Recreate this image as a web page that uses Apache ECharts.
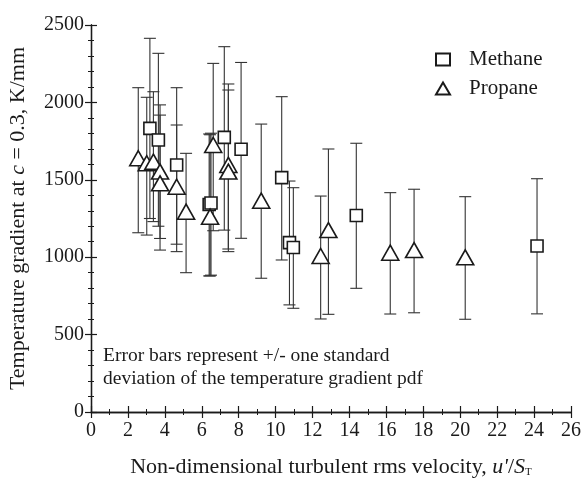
<!DOCTYPE html>
<html><head><meta charset="utf-8">
<script src="https://cdn.jsdelivr.net/npm/echarts@6/dist/echarts.min.js"></script>
<style>html,body{margin:0;padding:0;background:#fff}#c{width:583px;height:479px}</style>
</head><body><div id="c"></div>
<script>
const methaneX    = [3.19, 3.65, 4.64, 6.40, 6.50, 7.22, 8.13, 10.33, 10.75, 10.96, 14.37, 24.16];
const methaneY    = [1832, 1757, 1596, 1340, 1350, 1774, 1697, 1514, 1094, 1063, 1269, 1072];
const methaneHigh = [2414, 2317, 2095, 1796, 1801, 2360, 2258, 2037, 1492, 1449, 1736, 1507];
const methaneLow  = [1250, 1200, 1084, 879, 884, 1175, 1122, 982, 692, 670, 799, 634];

const propaneX    = [2.56, 3.02, 3.38, 3.74, 3.74, 4.64, 5.15, 6.45, 6.62, 7.44, 7.44, 9.22, 12.44, 12.86, 16.21, 17.50, 20.27];
const propaneY    = [1639, 1607, 1617, 1553, 1477, 1455, 1294, 1262, 1725, 1596, 1553, 1365, 1008, 1175, 1029, 1046, 999];
const propaneHigh = [2095, 2033, 2069, 1984, 1918, 1854, 1671, 1791, 2252, 2119, 2080, 1860, 1395, 1699, 1417, 1439, 1391];
const propaneLow  = [1158, 1143, 1230, 1121, 1046, 1036, 900, 879, 1171, 1053, 1036, 864, 601, 631, 633, 641, 599];

const xTicks = [0,2,4,6,8,10,12,14,16,18,20,22,24,26];
const yTicks = [0,500,1000,1500,2000,2500];

const FONT = '"Liberation Serif", "DejaVu Serif", serif';
const INK = '#1a1a1a';

function errorSeries(name, xs, lo, hi) {
  return {
    type: 'custom', name: name, z: 1,
    encode: { x: 0, y: [1, 2] },
    data: xs.map((x, i) => [x, lo[i], hi[i]]),
    renderItem: function (params, api) {
      const x = api.value(0);
      const top = api.coord([x, api.value(2)]);
      const bot = api.coord([x, api.value(1)]);
      const w = 6;
      const st = { stroke: '#333', lineWidth: 1.1 };
      return { type: 'group', children: [
        { type: 'line', shape: { x1: top[0], y1: top[1], x2: bot[0], y2: bot[1] }, style: st },
        { type: 'line', shape: { x1: top[0]-w, y1: top[1], x2: top[0]+w, y2: top[1] }, style: st },
        { type: 'line', shape: { x1: bot[0]-w, y1: bot[1], x2: bot[0]+w, y2: bot[1] }, style: st }
      ]};
    }
  };
}

const axLine = { show: true, lineStyle: { color: INK, width: 1.3 } };
const axTick = { show: true, inside: true, length: 6, lineStyle: { color: INK, width: 1.2 } };
function minor(n) { return { show: true, splitNumber: n, length: 3, lineStyle: { color: INK, width: 1 } }; }

const chart = echarts.init(document.getElementById('c'), null, { renderer: 'canvas' });
chart.setOption({
  animation: false,
  backgroundColor: '#fff',
  textStyle: { fontFamily: FONT },
  grid: { left: 91, right: 12, top: 25, bottom: 67, containLabel: false, outerBoundsMode: 'none' },
  title: {
    text: 'Error bars represent +/- one standard\ndeviation of the temperature gradient pdf',
    left: 98, top: 339,
    textStyle: { fontFamily: FONT, fontSize: 19.5, fontWeight: 'normal', color: INK, lineHeight: 23 }
  },
  legend: {
    data: ['Methane', 'Propane'],
    orient: 'vertical', left: 430, top: 44,
    itemWidth: 14, itemHeight: 12, itemGap: 8,
    textStyle: { fontFamily: FONT, fontSize: 21, color: INK, padding: [0, 0, 0, 14] }
  },
  xAxis: [
    {
      type: 'value', min: xTicks[0], max: xTicks[xTicks.length-1], interval: 2, position: 'bottom',
      axisLine: axLine, axisTick: axTick, minorTick: minor(2), splitLine: { show: false },
      axisLabel: { fontFamily: FONT, fontSize: 20, color: INK, margin: 9 },
      name: '{n|Non-dimensional turbulent rms velocity, }{i|u\'}{n|/}{i|S}{s|T}',
      nameLocation: 'middle', nameGap: 44,
      nameTextStyle: { rich: {
        n: { fontFamily: FONT, fontSize: 22, color: INK },
        i: { fontFamily: FONT, fontSize: 22, fontStyle: 'italic', color: INK },
        s: { fontFamily: FONT, fontSize: 11, color: INK, verticalAlign: 'bottom', padding: [10,0,0,0] }
      }}
    },
    {
      type: 'value', min: xTicks[0], max: xTicks[xTicks.length-1], interval: 2, position: 'top',
      axisLine: axLine, axisTick: axTick, minorTick: minor(2),
      axisLabel: { show: false }, splitLine: { show: false }
    }
  ],
  yAxis: [
    {
      type: 'value', min: yTicks[0], max: yTicks[yTicks.length-1], interval: 500, position: 'left',
      axisLine: axLine, axisTick: axTick, minorTick: minor(5), splitLine: { show: false },
      axisLabel: { fontFamily: FONT, fontSize: 20, color: INK, margin: 7, formatter: v => String(v) },
      name: '{n|Temperature gradient at }{i|c}{n| = 0.3, K/mm}',
      nameLocation: 'middle', nameGap: 62, nameRotate: 90,
      nameTextStyle: { rich: {
        n: { fontFamily: FONT, fontSize: 22, color: INK },
        i: { fontFamily: FONT, fontSize: 22, fontStyle: 'italic', color: INK }
      }}
    },
    {
      type: 'value', min: yTicks[0], max: yTicks[yTicks.length-1], interval: 500, position: 'right',
      axisLine: axLine, axisTick: axTick, minorTick: minor(5),
      axisLabel: { show: false }, splitLine: { show: false }
    }
  ],
  series: [
    errorSeries('Methane SD', methaneX, methaneLow, methaneHigh),
    errorSeries('Propane SD', propaneX, propaneLow, propaneHigh),
    {
      type: 'scatter', name: 'Methane', z: 3,
      symbol: 'rect', symbolSize: 12,
      itemStyle: { color: '#fff', borderColor: INK, borderWidth: 1.6, opacity: 1 },
      data: methaneX.map((x, i) => [x, methaneY[i]])
    },
    {
      type: 'scatter', name: 'Propane', z: 3,
      symbol: 'triangle', symbolSize: [17, 15],
      itemStyle: { color: '#fff', borderColor: INK, borderWidth: 1.6, opacity: 1 },
      data: propaneX.map((x, i) => [x, propaneY[i]])
    }
  ]
});
</script>
</body></html>
